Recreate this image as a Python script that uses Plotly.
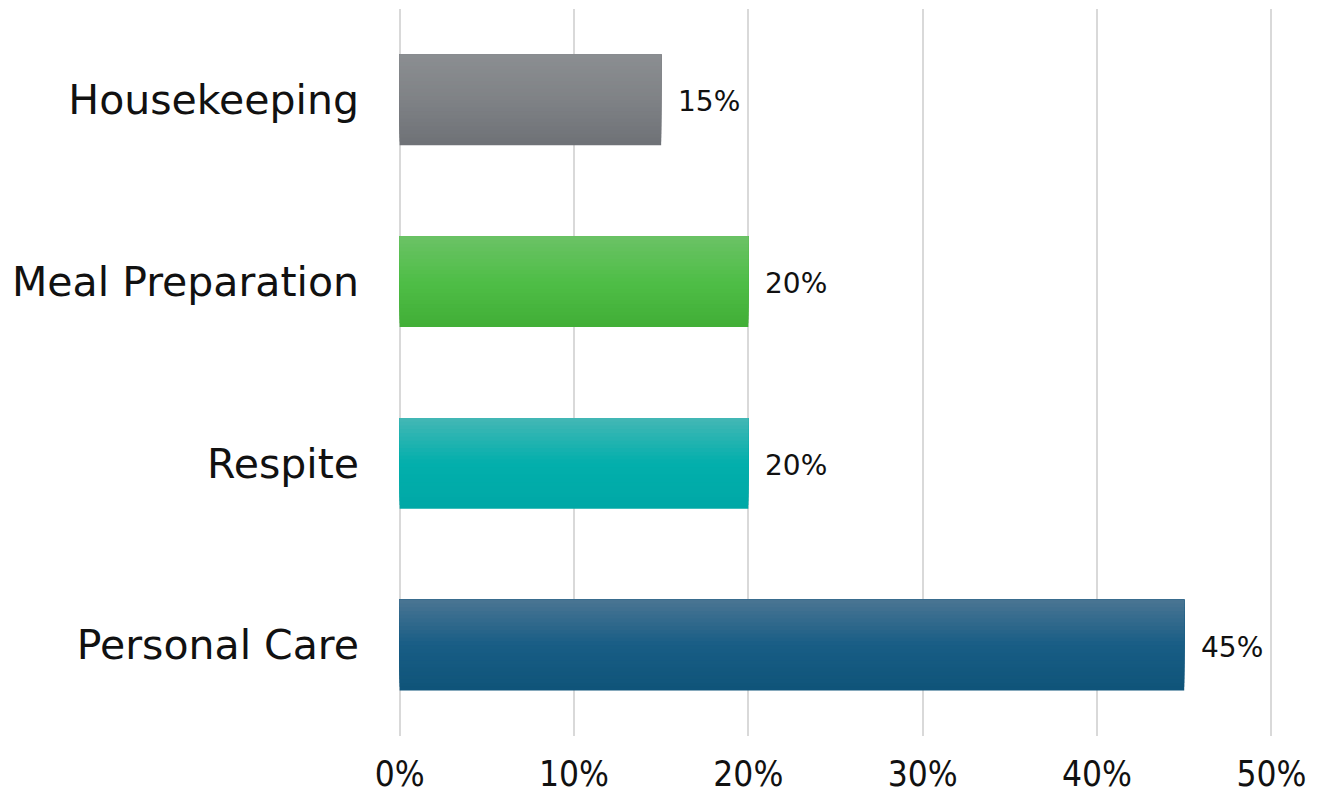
import plotly.graph_objects as go

# Service categories (bottom to top) and their shares
categories = ["Personal Care", "Respite", "Meal Preparation", "Housekeeping"]
shares = [45, 20, 20, 15]
value_labels = ["45%", "20%", "20%", "15%"]
tick_values = [0, 10, 20, 30, 40, 50]
tick_labels = ["0%", "10%", "20%", "30%", "40%", "50%"]

# Vertical gradient stops per bar: (top, middle, bottom)
gradients = [
    ("#4a7593", "#185d85", "#0f5479"),
    ("#44b7b5", "#02afac", "#00a8a6"),
    ("#6bc266", "#4fbe47", "#41ae36"),
    ("#8b8e91", "#7f8286", "#6e7176"),
]

BAR_WIDTH = 0.5
STRIPS = 24


def hex_to_rgb(h):
    h = h.lstrip("#")
    return tuple(int(h[i:i + 2], 16) for i in (0, 2, 4))


def mix(c1, c2, t):
    a, b = hex_to_rgb(c1), hex_to_rgb(c2)
    return "rgb(%d,%d,%d)" % tuple(round(a[i] + (b[i] - a[i]) * t) for i in range(3))


def gradient_color(stops, t):
    # t = 0 at the top edge, 1 at the bottom edge
    top, mid, bot = stops
    if t < 0.5:
        return mix(top, mid, t / 0.5)
    return mix(mid, bot, (t - 0.5) / 0.5)


fig = go.Figure()

# Each layer spans from its lower edge up to the top of the bar; later layers
# sit on top, so the fill reads as a smooth top-to-bottom gradient.
strip_w = BAR_WIDTH / STRIPS
for k in range(STRIPS):
    offset = -BAR_WIDTH / 2 + k * strip_w
    t = 1 - (k + 0.5) / STRIPS
    fig.add_trace(go.Bar(
        x=shares,
        y=categories,
        orientation="h",
        width=[BAR_WIDTH - k * strip_w] * len(categories),
        offset=[offset] * len(categories),
        marker=dict(color=[gradient_color(g, t) for g in gradients], line=dict(width=0)),
        hoverinfo="skip",
        showlegend=False,
    ))

for cat, val, lab in zip(categories, shares, value_labels):
    fig.add_annotation(
        x=val, y=cat, text=lab, showarrow=False,
        xanchor="left", yanchor="middle", xshift=15, yshift=-2,
        font=dict(family="DejaVu Sans, Open Sans, sans-serif", size=28, color="#111111"),
    )

fig.update_layout(
    width=1337,
    height=799,
    margin=dict(l=397, r=63, t=9, b=63),
    paper_bgcolor="white",
    plot_bgcolor="white",
    barmode="overlay",
    bargap=0.5,
    font=dict(family="DejaVu Sans, Open Sans, sans-serif", color="#111111"),
)

fig.update_xaxes(
    range=[-0.15, 50.15],
    tickvals=tick_values,
    ticktext=tick_labels,
    showgrid=True,
    gridcolor="#d9d9d9",
    gridwidth=2,
    zeroline=False,
    showline=False,
    ticks="",
    automargin=False,
    ticklabelstandoff=14,
    tickfont=dict(family="DejaVu Sans Condensed, Open Sans, sans-serif", size=35, color="#111111"),
)

fig.update_yaxes(
    categoryorder="array",
    categoryarray=categories,
    range=[-0.5, 3.5],
    showgrid=False,
    zeroline=False,
    showline=False,
    ticks="",
    automargin=False,
    ticklabelstandoff=37,
    tickfont=dict(family="DejaVu Sans, Open Sans, sans-serif", size=41, color="#111111"),
)

fig.write_html("out.html")
